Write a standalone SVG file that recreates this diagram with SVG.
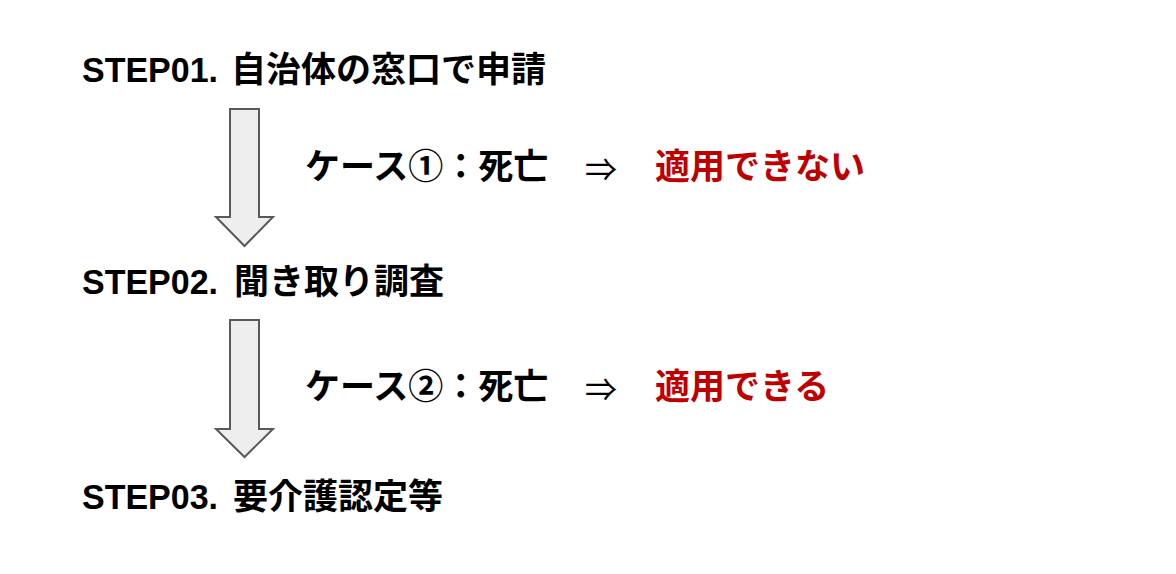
<svg xmlns="http://www.w3.org/2000/svg" width="1176" height="574" viewBox="0 0 1176 574">
<style>
.t{font-family:"Liberation Sans","Noto Sans CJK JP",sans-serif;font-weight:bold;fill:#000;}
.lat{font-size:35px;}
.cjk{font-size:35px;font-family:"Noto Sans CJK JP","Liberation Sans",sans-serif;}
.red{fill:#c00000;}
.arr{font-family:"Noto Sans CJK JP","DejaVu Sans",sans-serif;font-size:32px;font-weight:normal;fill:#000;}
.down{fill:#eeeeee;stroke:#595959;stroke-width:2;stroke-linejoin:miter;}
</style>
<rect width="1176" height="574" fill="#ffffff"/>
<g id="step01">
<text class="t" y="82"><tspan class="lat" x="82" textLength="136" lengthAdjust="spacingAndGlyphs">STEP01.</tspan><tspan class="cjk" x="231">自治体の窓口で申請</tspan></text>
</g>
<g id="step02">
<text class="t" y="294"><tspan class="lat" x="82" textLength="136" lengthAdjust="spacingAndGlyphs">STEP02.</tspan><tspan class="cjk" x="234">聞き取り調査</tspan></text>
</g>
<g id="step03">
<text class="t" y="509"><tspan class="lat" x="82" textLength="136" lengthAdjust="spacingAndGlyphs">STEP03.</tspan><tspan class="cjk" x="233">要介護認定等</tspan></text>
</g>
<g id="connectors">
<path class="down" d="M230 109 H259 V217 H273 L244.5 246 L216 217 H230 Z"/>
<path class="down" d="M230 320 H259 V429 H273 L244.5 457 L216 429 H230 Z"/>
</g>
<g id="case1">
<text class="t cjk" x="305" y="179">ケース①：死亡</text>
<text class="arr" x="585" y="181">⇒</text>
<text class="t cjk red" x="655" y="179">適用できない</text>
</g>
<g id="case2">
<text class="t cjk" x="305" y="399">ケース②：死亡</text>
<text class="arr" x="585" y="401">⇒</text>
<text class="t cjk red" x="655" y="399">適用できる</text>
</g>
</svg>
